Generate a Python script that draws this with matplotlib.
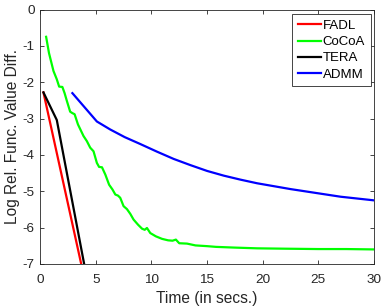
import numpy as np
import matplotlib
matplotlib.use('Agg')
import matplotlib.pyplot as plt

plt.rcParams['font.family'] = ['Liberation Sans', 'DejaVu Sans']

# FADL
fadl_t = [0.3, 3.8]
fadl_v = [-2.28, -7.15]

# TERA
tera_t = [0.3, 1.5, 4.05]
tera_v = [-2.28, -3.04, -7.15]

# CoCoA
cocoa_t = [0.54, 0.8, 1.2, 1.5, 1.71, 2.0, 2.2, 2.4, 2.7, 2.9, 3.1, 3.4, 3.9, 4.2, 4.5, 4.8,
           5.1, 5.3, 5.56, 5.86, 6.2, 6.5, 6.76, 7.0, 7.2, 7.5, 7.8, 8.1, 8.4, 8.8, 9.16, 9.4,
           9.6, 9.9, 10.4, 10.96, 11.5, 11.9, 12.2, 12.5, 13.2, 13.96, 15.0, 15.8, 17.5,
           19.5, 22.0, 25.0, 27.5, 30.0]
cocoa_v = [-0.75, -1.2, -1.69, -1.92, -2.12, -2.13, -2.3, -2.51, -2.81, -2.85, -2.88, -3.16,
           -3.48, -3.62, -3.8, -3.9, -4.22, -4.33, -4.34, -4.54, -4.82, -4.95, -5.09, -5.12,
           -5.18, -5.41, -5.49, -5.62, -5.78, -5.92, -6.03, -6.06, -6.01, -6.15, -6.24, -6.31,
           -6.35, -6.36, -6.33, -6.43, -6.44, -6.49, -6.51, -6.53, -6.55, -6.57, -6.58,
           -6.59, -6.59, -6.6]

# ADMM
admm_t = [2.9, 5.1, 6.3, 7.6, 9.0, 10.5, 12.0, 13.5, 15.0, 16.5, 18.0, 19.5, 21.0, 22.5,
          24.0, 25.5, 27.0, 28.5, 30.0]
admm_v = [-2.30, -3.08, -3.30, -3.51, -3.70, -3.91, -4.11, -4.28, -4.44, -4.57, -4.68,
          -4.78, -4.86, -4.94, -5.01, -5.08, -5.15, -5.20, -5.25]

fig = plt.figure(figsize=(3.82, 3.08), dpi=100)
ax = fig.add_axes([0.105, 0.143, 0.874, 0.826])

lw = 1.6
ax.plot(fadl_t, fadl_v, color='#ff0000', lw=lw, label='FADL')
ax.plot(cocoa_t, cocoa_v, color='#00ff00', lw=lw, label='CoCoA')
ax.plot(tera_t, tera_v, color='#000000', lw=lw, label='TERA')
ax.plot(admm_t, admm_v, color='#0000ff', lw=lw, label='ADMM')

ax.set_xlim(0, 30)
ax.set_ylim(-7, 0)
ax.set_xticks([0, 5, 10, 15, 20, 25, 30])
ax.set_yticks([0, -1, -2, -3, -4, -5, -6, -7])
ax.set_yticklabels(['0', '-1', '-2', '-3', '-4', '-5', '-6', '-7'])

ax.tick_params(direction='in', top=True, right=True, length=3, width=0.6,
               labelsize=9.7, colors='#262626')
ax.tick_params(axis='x', pad=7)
ax.tick_params(axis='y', pad=4)
for s in ax.spines.values():
    s.set_color('#262626')
    s.set_linewidth(0.6)

ax.set_xlabel('Time (in secs.)', fontsize=11.2, color='#262626', labelpad=4)
ax.set_ylabel('Log Rel. Func. Value Diff.', fontsize=11.2, color='#262626', labelpad=2)

leg = ax.legend(loc='upper right', bbox_to_anchor=(370.7 / 382, 1 - 14.3 / 308),
                bbox_transform=fig.transFigure, borderaxespad=0,
                fontsize=9.5, handlelength=1.8, handletextpad=0.1,
                borderpad=0.42, labelspacing=0.3, fancybox=False, framealpha=1)
leg.get_frame().set_edgecolor('#262626')
leg.get_frame().set_linewidth(0.6)

fig.savefig('out.png', dpi=100)
